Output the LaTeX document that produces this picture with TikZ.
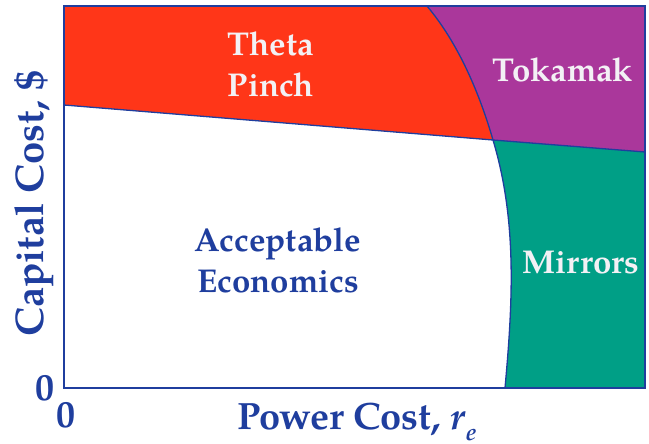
\documentclass[tikz,border=0pt]{standalone}
\usepackage{fontspec}
\setmainfont{TeX Gyre Pagella}
\definecolor{azul}{HTML}{1F3E9E}
\definecolor{rojo}{HTML}{FF3618}
\definecolor{morado}{HTML}{AA379B}
\definecolor{verde}{HTML}{009F86}
\definecolor{blanco}{HTML}{F3F1F5}
\begin{document}
\begin{tikzpicture}[x=1pt,y=-1pt,
    borde/.style={draw=azul,line width=1.3pt},
    region/.style={font=\bfseries\fontsize{33}{41}\selectfont,align=center,inner sep=0pt},
    eje/.style={font=\bfseries\fontsize{38}{40}\selectfont,text=azul,inner sep=0pt}]
    \useasboundingbox (0,0) rectangle (649,444);

    % Esquinas del recuadro
    \coordinate (A) at (64,6);
    \coordinate (B) at (645,6);
    \coordinate (C) at (645,388);
    \coordinate (D) at (64,388);

    % Recta de costo y curva de frontera
    \coordinate (P) at (64,105);
    \coordinate (Q) at (493,140);
    \coordinate (R) at (645,152);
    \coordinate (S) at (427,6);
    \coordinate (T) at (505,388);

    % Regiones
    \fill[rojo] (A) -- (S) .. controls (459,44) and (480,95) .. (Q) -- (P) -- cycle;
    \fill[morado] (S) -- (B) -- (R) -- (Q) .. controls (480,95) and (459,44) .. (S) -- cycle;
    \fill[verde] (Q) -- (R) -- (C) -- (T) .. controls (513,300) and (517,220) .. (Q) -- cycle;

    % Fronteras
    \draw[borde] (P) -- (Q) -- (R);
    \draw[borde] (S) .. controls (459,44) and (480,95) .. (Q)
        .. controls (517,220) and (513,300) .. (T);
    \draw[draw=azul,line width=1.8pt] (A) rectangle (C);

    % Rotulos
    \node[region,text=blanco] (theta) at (271,64) {Theta\\Pinch};
    \node[region,text=blanco,anchor=base] (tokamak) at (563,82) {Tokamak};
    \node[region,text=azul] (aceptable) at (278,260) {Acceptable\\Economics};
    \node[region,text=blanco,anchor=base] (espejos) at (581,273) {Mirrors};

    % Ejes
    \node[eje,anchor=base west] (xlabel) at (237,429)
        {Power Cost, \textit{r}\raisebox{-11pt}{\fontsize{24}{24}\selectfont\textit{e}}};
    \node[eje,anchor=base west,rotate=90,font=\bfseries\fontsize{40}{40}\selectfont] (ylabel) at (43,337) {Capital Cost, \$};
    \node[eje,anchor=base] (ceroy) at (45,400) {0};
    \node[eje,anchor=base] (cerox) at (66,427) {0};
\end{tikzpicture}
\end{document}
